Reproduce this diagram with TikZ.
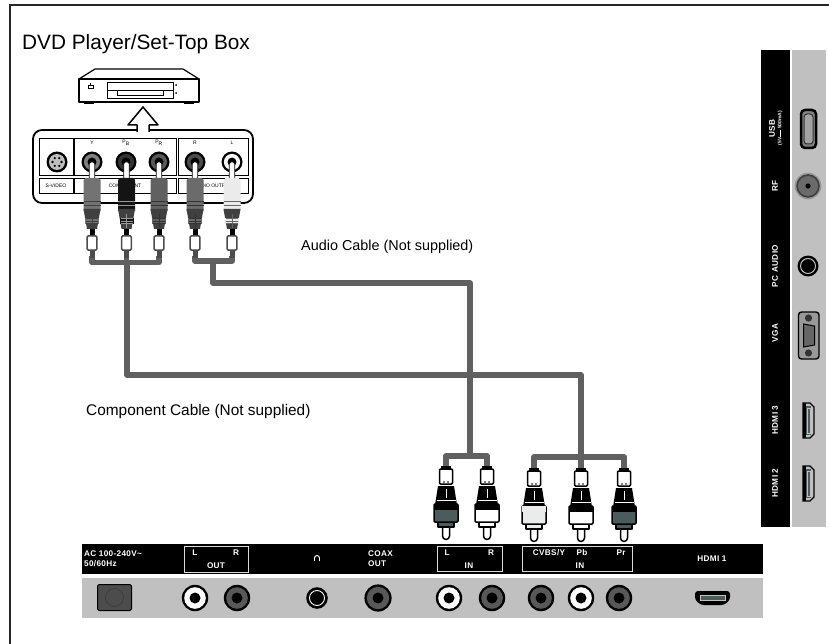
\documentclass[tikz,border=0pt]{standalone}
\usepackage{fontspec}
\setmainfont{Liberation Sans}
\newfontfamily\panelfont[LetterSpace=4]{Liberation Sans}
\tikzset{
  cable/.style={draw=cablegray, line width=5.6pt, line join=round},
  label/.style={font=\fontsize{8.2}{9}\panelfont\bfseries, text=white, inner sep=0pt, align=left},
  sidelabel/.style={label, rotate=90},
  caption/.style={anchor=base west, inner sep=0pt},
  tiny/.style={font=\fontsize{5}{5.5}\selectfont, inner sep=0pt},
  outline/.style={draw=black, line width=1.5pt, line join=round}
}
\definecolor{cablegray}{HTML}{606060}
\definecolor{panelgray}{HTML}{C0C0C0}
\definecolor{darkteal}{HTML}{4C5B5B}
\definecolor{socketgray}{HTML}{585858}
% socket: x, y, outer radius, ring colour, hole radius
\newcommand{\socket}[5]{
  \fill[black] (#1,#2) circle [radius=#3];
  \fill[#4] (#1,#2) circle [radius=#3-2.4];
  \fill[black] (#1,#2) circle [radius=#5];
}
% plug at the TV end, pointing down: x, top of body, body colour, band colour
\newcommand{\lowplug}[4]{
  \fill[black] (#1-5,#2-20) rectangle (#1+5,#2-17);
  \draw[outline, fill=white, rounded corners=1pt] (#1-6.5,#2-17) rectangle (#1+6.5,#2-2);
  \fill[black] (#1-2,#2-4) circle [radius=0.8];
  \fill[black] (#1+2,#2-4) circle [radius=0.8];
  \fill[black] (#1-8,#2) -- (#1+8,#2) -- (#1+11,#2+19) -- (#1-11,#2+19) -- cycle;
  \draw[white, line width=0.8pt] (#1,#2+3) -- (#1,#2+12);
  \draw[white, line width=0.6pt] (#1-9.5,#2+14) -- (#1+9.5,#2+14);
  \draw[outline, fill=white] (#1-3.5,#2+36) -- (#1-3.5,#2+50) arc (180:0:3.5) -- (#1+3.5,#2+36) -- cycle;
  \draw[outline, fill=#3] (#1-8,#2+34) rectangle (#1+8,#2+41);
  \draw[outline, fill=#3, rounded corners=1pt] (#1-12,#2+18) rectangle (#1+12,#2+36);
  \fill[#4] (#1-12,#2+18) rectangle (#1+12,#2+24);
}
% plug at the player end, pointing up: x, body colour, rib colour
\newcommand{\upplug}[3]{
  \draw[black, line width=0.8pt, fill=white, rounded corners=1.5pt] (#1-2.8,162) rectangle (#1+2.8,180);
  \fill[#2] (#1-8.5,180) -- (#1-6.5,178) -- (#1+6.5,178) -- (#1+8.5,180) -- (#1+8.5,211) -- (#1-8.5,211) -- cycle;
  \draw[#3, line width=0.8pt] (#1-8.5,201) -- (#1+8.5,201) (#1-8.5,205) -- (#1+8.5,205);
  \fill[black!75] (#1-8.5,209) -- (#1+8.5,209) -- (#1+5,229) -- (#1-5,229) -- cycle;
  \fill[#2] (#1-7,218) rectangle (#1+7,224);
  \draw[#3, line width=0.5pt] (#1-6,218.5) -- (#1+6,218.5) (#1-6,221) -- (#1+6,221) (#1-6,223.5) -- (#1+6,223.5) (#1,214) -- (#1,228);
  \fill[black] (#1-2.5,229) rectangle (#1+2.5,236);
  \draw[black!70, line width=1.5pt, fill=white, rounded corners=1pt] (#1-4.8,236) rectangle (#1+4.8,250);
  \fill[black!70] (#1-2.5,251) rectangle (#1+2.5,258);
}
\begin{document}
\begin{tikzpicture}[x=1pt, y=-1pt]
  \useasboundingbox (0,0) rectangle (829,644);
  % outer frame
  \draw[black!85, line width=2pt] (10,644) -- (10,5) -- (829,5);
  \node[caption, font=\fontsize{20.8}{24}\selectfont] (title) at (22,50) {DVD Player/Set-Top Box};
  \node[caption, font=\fontsize{14.4}{16}\selectfont] (audiotext) at (301,251) {Audio Cable (Not supplied)};
  \node[caption, font=\fontsize{15.4}{18}\selectfont] (comptext) at (86,415) {Component Cable (Not supplied)};
  % player
  \draw[outline, line width=1.2pt, fill=white] (79,79) -- (95,69) -- (183,69) -- (199,79) -- cycle;
  \fill[black] (84,102) rectangle (94,104.5);
  \fill[black] (184,102) rectangle (194,104.5);
  \draw[outline, line width=1.2pt, fill=white] (79,79) rectangle (199,102);
  \draw[black, line width=1pt] (107,83) rectangle (173,99);
  \draw[black, line width=1pt] (107,91) -- (173,91);
  \draw[black, line width=0.8pt] (117,91) -- (117,95.5) -- (163,95.5) -- (163,91);
  \draw[black, line width=1pt] (88.5,85.5) rectangle (93,89);
  \draw[black, line width=1pt] (90.7,83.5) -- (90.7,85.5);
  \fill[black] (176,85) circle [radius=1];
  \fill[black] (176,93) circle [radius=1];
  % jack panel of the player
  \draw[black, line width=1.8pt, rounded corners=9pt] (33,130) rectangle (253,203);
  \foreach \bx/\bw in {39/34, 74/102, 178/70} {
    \draw[black, line width=0.9pt] (\bx,138) rectangle ++(\bw,37);
    \draw[black, line width=0.9pt] (\bx,178) rectangle ++(\bw,15);
  }
  \fill[black] (57,162) circle [radius=10.5];
  \fill[white!75!black] (57,162) circle [radius=8];
  \foreach \a in {0,60,...,300} {
    \fill[black] (57,162) ++(\a:4.5) circle [radius=1.3];
  }
  \socket{92}{162}{10.5}{gray}{4.5}
  \socket{126}{162}{10.5}{black!80}{4.5}
  \socket{159}{162}{10.5}{black!65}{4.5}
  \socket{195}{162}{10.5}{black!70}{4.5}
  \socket{232}{162}{10.5}{white}{4.5}
  \node[tiny] (ylabel) at (92,143) {Y};
  \node[tiny] (pblabel) at (126,143) {P\textsubscript{B}};
  \node[tiny] (prlabel) at (159,143) {P\textsubscript{R}};
  \node[tiny] (rlabel) at (195,143) {R};
  \node[tiny] (llabel) at (232,143) {L};
  \node[tiny] (svideo) at (56,186) {S-VIDEO};
  \node[tiny] (component) at (125,186) {COMPONENT};
  \node[tiny] (audioout) at (213,186) {AUDIO OUTPUT};
  % arrow from panel to player
  \fill[white] (138,128) rectangle (148,133);
  \draw[outline, fill=white] (137,132) -- (137,125) -- (128,125) -- (143,107) -- (158,125) -- (149,125) -- (149,132);
  % cables
  \coordinate (compjoin) at (127,262.5);
  \coordinate (compfoot) at (581,457);
  \coordinate (audiojoin) at (213,261);
  \coordinate (audiofoot) at (470,456);
  \draw[cable] (92,256) -- (92,262.5) -- (159,262.5) -- (159,256);
  \draw[cable] (126.5,256) -- (126.5,262.5);
  \draw[cable] (195,256) -- (195,261) -- (232,261) -- (232,256);
  \draw[cable] (compjoin) -- (127,375) -- (581,375) -- (compfoot);
  \draw[cable] (audiojoin) -- (213,283) -- (470,283) -- (audiofoot);
  \draw[cable] (446,468) -- (446,456) -- (487,456) -- (487,468);
  \draw[cable] (534,468) -- (534,457) -- (624,457) -- (624,468);
  \draw[cable] (581,457) -- (581,468);
  % plugs at the player
  \upplug{92}{black!55}{black!75}
  \upplug{126.5}{black!92}{white!60!black}
  \upplug{159}{black!62}{black!80}
  \upplug{195}{black!58}{black!80}
  \upplug{232}{white!92!black}{black!60}
  % plugs at the TV
  \lowplug{446}{486}{darkteal}{black}
  \lowplug{487}{486}{white}{black}
  \lowplug{534}{488}{white!88!darkteal}{white!88!darkteal}
  \lowplug{581}{488}{white}{black}
  \lowplug{624}{488}{darkteal}{black}
  % bottom panel
  \fill[black] (82,544) rectangle (763,574);
  \fill[panelgray] (82,578) rectangle (763,618);
  \draw[white!85!black, line width=0.9pt] (184,546) rectangle (248,572);
  \draw[white!85!black, line width=0.9pt] (437,546) rectangle (502,571);
  \draw[white!85!black, line width=0.9pt] (522,546) rectangle (632,571);
  \node[label, anchor=west] (aclabel) at (84,554) {AC 100-240V\textasciitilde};
  \node[label, anchor=west] (hzlabel) at (84,564) {50/60Hz};
  \node[label] (outl) at (195,553) {L};
  \node[label] (outr) at (236,553) {R};
  \node[label] (outlabel) at (216,566) {OUT};
  \draw[white, line width=0.9pt] (314.5,561) -- (314.5,558) arc (180:360:2.5) -- (319.5,561);
  \node[label, anchor=west] (coax) at (368,554) {COAX};
  \node[label, anchor=west] (coaxout) at (368,564) {OUT};
  \node[label] (inl) at (447,553) {L};
  \node[label] (inr) at (491,553) {R};
  \node[label] (inlabel) at (469,566) {IN};
  \node[label] (cvbs) at (549,553) {CVBS/Y};
  \node[label] (pb) at (582,553) {Pb};
  \node[label] (pr) at (621,553) {Pr};
  \node[label] (inlabelb) at (580,566) {IN};
  \node[label] (hdmione) at (712,559) {HDMI 1};
  \draw[black, line width=1pt, fill=black!70, rounded corners=1.5pt] (97.5,584.5) rectangle (131.5,610.5);
  \draw[black!80, line width=0.4pt] (114.5,597.5) circle [radius=9];
  \socket{195}{598}{13.2}{white}{5.5}
  \socket{237}{598}{13.2}{socketgray}{5.5}
  \fill[black] (317,598) circle [radius=10.8];
  \draw[white, line width=0.9pt] (317,598) circle [radius=7.5];
  \socket{378}{598}{13.6}{socketgray}{5.5}
  \socket{449}{598}{13.2}{white}{5.5}
  \socket{492}{598}{13.2}{socketgray}{5.5}
  \socket{541}{598}{13.2}{socketgray}{5.5}
  \socket{581}{598}{13.2}{white}{5.5}
  \socket{619}{598}{13.2}{socketgray}{5.5}
  \fill[black, rounded corners=3pt] (695,591) -- (730,591) -- (730,600) -- (724,605) -- (701,605) -- (695,600) -- cycle;
  \draw[panelgray, line width=0.6pt, fill=darkteal] (700,595) rectangle (725,600);
  % right panel
  \fill[black] (761,50) rectangle (790,527);
  \fill[panelgray] (792,50) rectangle (826,527);
  \node[sidelabel] (usb) at (772,128.5) {USB};
  \node[sidelabel, font=\fontsize{5}{6}\selectfont\bfseries] (usbpower) at (780,128) {(5V\,\rule[0.6pt]{7pt}{1.2pt}\,500mA)};
  \node[sidelabel] (rf) at (775,186) {RF};
  \node[sidelabel] (pcaudio) at (775,266) {PC AUDIO};
  \node[sidelabel] (vga) at (775,333) {VGA};
  \node[sidelabel] (hdmithree) at (775,420) {HDMI 3};
  \node[sidelabel] (hdmitwo) at (775,483) {HDMI 2};
  % usb
  \draw[black, line width=2.5pt, fill=gray, rounded corners=4pt] (801,110) rectangle (816,148);
  \draw[black!80, line width=1pt, fill=panelgray!85!black, rounded corners=3pt] (804,114) rectangle (813,144);
  % rf
  \fill[gray!80] (808,186) circle [radius=13.4];
  \fill[black!75] (808,186) circle [radius=11.8];
  \fill[black!58] (808,186) circle [radius=10];
  \fill[black] (808,186) circle [radius=2.6];
  % pc audio
  \fill[black] (808,266) circle [radius=10.5];
  \draw[panelgray, line width=1pt] (808,266) circle [radius=7.5];
  % vga
  \draw[black, line width=1.4pt, fill=gray!80, rounded corners=3pt] (798.5,312) rectangle (819,359);
  \draw[black, line width=1pt, fill=black!60] (803.5,324) -- (814.5,326) -- (814.5,345) -- (803.5,347) -- cycle;
  \fill[black!80] (808.5,318) circle [radius=3.6];
  \fill[black!80] (808.5,353) circle [radius=3.6];
  % hdmi
  \foreach \hy in {403,466} {
    \draw[black, line width=1.2pt, fill=panelgray] (803,\hy) -- (810,\hy) -- (814,\hy+4) -- (814,\hy+31) -- (810,\hy+35) -- (803,\hy+35) -- cycle;
    \fill[black] (802.5,\hy) rectangle (805.5,\hy+35);
    \fill[darkteal] (805.5,\hy+3) rectangle (810.5,\hy+32);
    \draw[panelgray, line width=0.6pt] (807,\hy+5) rectangle (810.5,\hy+30);
  }
\end{tikzpicture}
\end{document}
